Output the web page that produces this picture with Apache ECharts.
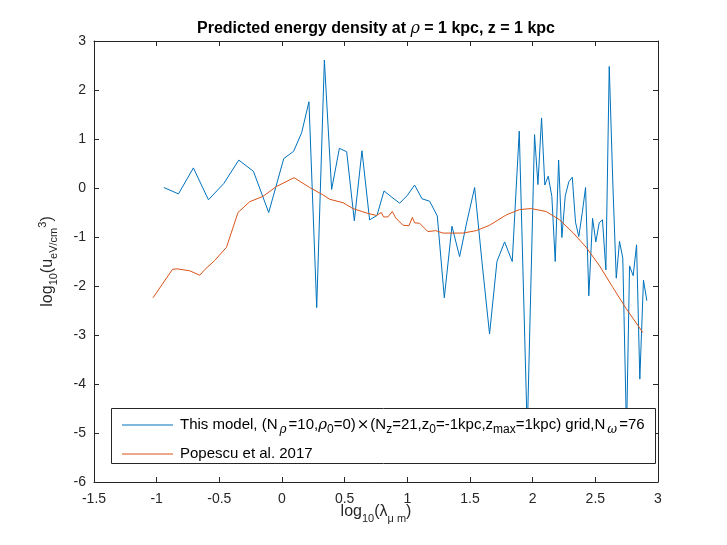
<!DOCTYPE html>
<html>
<head>
<meta charset="utf-8">
<script src="https://cdn.jsdelivr.net/npm/echarts@6/dist/echarts.min.js"></script>
<style>
  html, body { margin: 0; padding: 0; background: #fff; }
  #chart { width: 727px; height: 545px; }
</style>
</head>
<body>
<div id="chart"></div>
<script>
// values
var modelX = [-0.943, -0.826, -0.707, -0.587, -0.465, -0.345, -0.228, -0.106, 0.014, 0.093,
  0.157, 0.215, 0.277, 0.338, 0.396, 0.458, 0.516, 0.577, 0.638, 0.699,
  0.758, 0.814, 0.877, 0.939, 1.000, 1.058, 1.117, 1.178, 1.239, 1.295,
  1.356, 1.417, 1.475, 1.537, 1.596, 1.656, 1.715, 1.776, 1.837, 1.893,
  1.957, 2.015, 2.042, 2.071, 2.097, 2.124, 2.153, 2.180, 2.207, 2.233,
  2.260, 2.289, 2.316, 2.342, 2.368, 2.396, 2.422, 2.448, 2.478, 2.504,
  2.531, 2.557, 2.584, 2.611, 2.640, 2.667, 2.693, 2.719, 2.749, 2.773,
  2.802, 2.829, 2.855, 2.884, 2.911];
var modelY = [0.01, -0.12, 0.41, -0.24, 0.09, 0.57, 0.34, -0.50, 0.60, 0.75,
  1.13, 1.76, -2.44, 2.61, -0.03, 0.81, 0.74, -0.67, 0.76, -0.65,
  -0.56, -0.06, -0.19, -0.31, -0.15, 0.06, -0.22, -0.27, -0.57, -2.24,
  -0.78, -1.40, -0.69, 0.01, -1.52, -2.98, -1.50, -1.10, -1.50, 1.16,
  -5.0, 1.09, 0.07, 1.43, 0.06, 0.24, -0.17, -1.50, 0.57, -1.01,
  -0.16, 0.13, 0.22, -0.70, -0.99, -0.50, 0.01, -2.20, -0.62, -1.10,
  -0.71, -0.65, -1.67, 2.48, 0.06, -1.84, -1.09, -1.43, -5.0, -1.59,
  -1.79, -1.16, -3.90, -1.88, -2.30];

var popescuX = [-1.029, -0.874, -0.836, -0.736, -0.656, -0.614, -0.537, -0.443, -0.351, -0.258,
  -0.151, -0.045, 0.096, 0.221, 0.327, 0.380, 0.487, 0.566, 0.673, 0.753,
  0.793, 0.811, 0.845, 0.880, 0.907, 0.965, 1.013, 1.040, 1.058, 1.098,
  1.164, 1.226, 1.284, 1.443, 1.550, 1.656, 1.789, 1.896, 1.989, 2.108,
  2.215, 2.321, 2.427, 2.534, 2.640, 2.746, 2.879];
var popescuY = [-2.24, -1.66, -1.65, -1.69, -1.78, -1.66, -1.48, -1.21, -0.50, -0.28,
  -0.17, 0.03, 0.21, 0.01, -0.14, -0.23, -0.30, -0.42, -0.51, -0.56,
  -0.50, -0.59, -0.59, -0.48, -0.61, -0.76, -0.77, -0.60, -0.71, -0.72,
  -0.89, -0.87, -0.92, -0.92, -0.87, -0.76, -0.55, -0.44, -0.42, -0.48,
  -0.65, -0.91, -1.21, -1.59, -2.03, -2.46, -2.95];

var seriesNames = ['This model', 'Popescu et al. 2017'];
var legendLabels = [
  'This model, (N{gsub|ρ}=10,{it|ρ}{sub|0}=0){x|×}(N{sub|z}=21,z{sub|0}=-1kpc,z{sub|max}=1kpc) grid,N{gsub|ω}=76',
  'Popescu et al. 2017'
];
var xName = 'log{sub|10}(λ{sub|μ m})';
var yName = 'log{sub|10}(u{sub|eV/cm}{sup|3})';

var ink = '#262626';
var font = '"Liberation Sans", Arial, Helvetica, sans-serif';
var serif = '"DejaVu Serif", serif';

function zip(xs, ys) {
  return xs.map(function (x, i) { return [x, ys[i]]; });
}

var chart = echarts.init(document.getElementById('chart'));

var boxAxis = {
  axisLine: { show: true, onZero: false, lineStyle: { color: ink, width: 1 } },
  axisTick: { show: true, inside: true, length: 5, lineStyle: { color: ink } },
  splitLine: { show: false }
};

var option = {
  animation: false,
  backgroundColor: '#fff',
  textStyle: { fontFamily: font },
  title: {
    text: 'Predicted energy density at {it|ρ} = 1 kpc, z = 1 kpc',
    left: 376,
    textAlign: 'center',
    top: 21,
    padding: 0,
    textStyle: {
      fontSize: 16, fontWeight: 'bold', color: '#000', fontFamily: font,
      rich: {
        it: { fontSize: 16, fontStyle: 'italic', fontWeight: 'normal', fontFamily: serif, color: '#000' }
      }
    }
  },
  grid: { left: 94, right: 69, top: 41, bottom: 63 },
  xAxis: [
    Object.assign({
      type: 'value', min: -1.5, max: 3, interval: 0.5, position: 'bottom',
      axisLabel: { color: ink, fontSize: 14, margin: 10, fontFamily: font }
    }, boxAxis),
    Object.assign({
      type: 'value', min: -1.5, max: 3, interval: 0.5, position: 'top',
      axisLabel: { show: false }
    }, boxAxis)
  ],
  yAxis: [
    Object.assign({
      type: 'value', min: -6, max: 3, interval: 1, position: 'left',
      axisLabel: { color: ink, fontSize: 14, margin: 8, fontFamily: font },
      name: yName,
      nameLocation: 'middle',
      nameRotate: 90,
      nameGap: 35,
      nameTextStyle: {
        color: ink, fontSize: 16, fontFamily: font, lineHeight: 22,
        rich: {
          sub: { fontSize: 11, lineHeight: 11, padding: [11, 0, 0, 0], color: ink, fontFamily: font },
          sup: { fontSize: 11, lineHeight: 11, padding: [0, 0, 11, 0], color: ink, fontFamily: font }
        }
      }
    }, boxAxis),
    Object.assign({
      type: 'value', min: -6, max: 3, interval: 1, position: 'right',
      axisLabel: { show: false }
    }, boxAxis)
  ],
  legend: {
    data: seriesNames,
    orient: 'vertical',
    left: 122,
    top: 414,
    padding: 0,
    itemGap: 8,
    itemWidth: 51,
    itemHeight: 1.2,
    icon: 'rect',
    z: 20,
    formatter: function (name) {
      return legendLabels[seriesNames.indexOf(name)];
    },
    textStyle: {
      color: '#000', fontSize: 15, fontFamily: font, lineHeight: 20, padding: [0, 0, 0, 2],
      rich: {
        sub: { fontSize: 12, lineHeight: 12, padding: [10, 0, 0, 0], color: '#000', fontFamily: font },
        gsub: { fontSize: 12, lineHeight: 12, padding: [9, 2, 0, 2], fontStyle: 'italic', color: '#000', fontFamily: serif },
        it: { fontSize: 15, fontStyle: 'italic', fontFamily: serif, color: '#000' },
        x: { fontSize: 15, padding: [0, 1, 0, 1], color: '#000', fontFamily: serif }
      }
    }
  },
  graphic: [{
    type: 'rect',
    z: 10,
    shape: { x: 111.5, y: 408.5, width: 544, height: 55 },
    style: { fill: '#fff', stroke: ink, lineWidth: 1 }
  }, {
    type: 'text',
    z: 10,
    x: 376,
    y: 512,
    style: {
      text: xName,
      fill: ink,
      fontSize: 16,
      fontFamily: font,
      lineHeight: 22,
      align: 'center',
      verticalAlign: 'middle',
      rich: {
        sub: { fontSize: 11, lineHeight: 11, padding: [14, 0, 0, 0], fill: ink, fontFamily: font }
      }
    }
  }],
  series: [
    {
      name: seriesNames[0],
      type: 'line',
      data: zip(modelX, modelY),
      showSymbol: false,
      symbol: 'none',
      lineStyle: { color: '#0072BD', width: 1 },
      itemStyle: { color: '#0072BD' },
      z: 2
    },
    {
      name: seriesNames[1],
      type: 'line',
      data: zip(popescuX, popescuY),
      showSymbol: false,
      symbol: 'none',
      lineStyle: { color: '#D95319', width: 1 },
      itemStyle: { color: '#D95319' },
      z: 3
    }
  ]
};

chart.setOption(option);
</script>
</body>
</html>
